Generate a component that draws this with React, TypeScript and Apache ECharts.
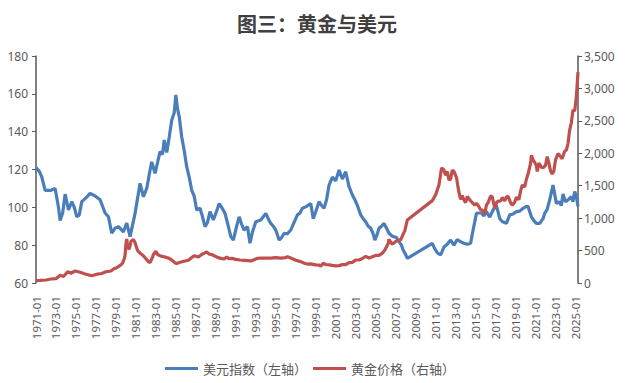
import React, { useEffect, useRef } from "react";
import * as echarts from "echarts";

const TITLE = "图三：黄金与美元";
const SERIES_NAMES = ["美元指数（左轴）", "黄金价格（右轴）"];
const START_YEAR = 1971;
const END_MONTH = "2025-04";

const DXY_DATES = [
  "1971-01","1971-05","1971-08","1971-12","1972-07","1972-12","1973-04","1973-06","1973-09","1973-12",
  "1974-04","1974-08","1974-11","1975-02","1975-05","1975-08","1976-01","1976-06","1976-12","1977-06",
  "1977-12","1978-04","1978-08","1978-12","1979-04","1979-10","1980-02","1980-06","1980-12","1981-06",
  "1981-10","1982-02","1982-06","1982-08","1982-12","1983-06","1983-09","1983-11","1984-02","1984-05",
  "1984-08","1984-11","1985-01","1985-03","1985-05","1985-08","1985-11","1986-02","1986-05","1986-08",
  "1986-11","1987-02","1987-06","1987-09","1987-12","1988-03","1988-06","1988-10","1989-02","1989-05",
  "1989-08","1989-12","1990-04","1990-07","1990-10","1991-02","1991-05","1991-08","1991-11","1992-03",
  "1992-06","1992-09","1993-01","1993-07","1993-10","1994-01","1994-04","1994-07","1994-10","1995-01",
  "1995-05","1995-08","1995-11","1996-03","1996-07","1996-11","1997-03","1997-06","1997-09","1998-02",
  "1998-07","1998-10","1999-01","1999-05","1999-08","1999-11","2000-02","2000-05","2000-09","2001-01",
  "2001-05","2001-09","2002-01","2002-05","2002-09","2002-12","2003-03","2003-07","2003-10","2004-01",
  "2004-04","2004-07","2004-10","2004-12","2005-03","2005-05","2005-08","2005-11","2006-02","2006-05",
  "2006-08","2006-11","2007-02","2007-05","2007-08","2007-10","2008-01","2008-03","2010-09","2010-12",
  "2011-03","2011-07","2011-11","2012-03","2012-07","2012-11","2013-03","2013-07","2013-11","2014-03",
  "2014-07","2014-10","2015-02","2015-05","2015-08","2015-11","2016-02","2016-06","2016-10","2017-02",
  "2017-06","2017-09","2018-02","2018-06","2018-10","2019-02","2019-06","2019-10","2020-02","2020-04",
  "2020-08","2020-11","2021-02","2021-06","2021-10","2021-12","2022-03","2022-06","2022-10","2023-02",
  "2023-05","2023-08","2023-10","2024-01","2024-04","2024-08","2024-10","2024-12","2025-02","2025-04"
];
const DXY_VALUES = [
  121,119,116,109,109,110,100,93,97,107,
  98.6,103,100,95,96,103,105,107.4,106,104,
  97,95,86.3,89,89.8,87,91.7,84.5,96.8,112.7,
  105.6,110,119.7,124,118,129.4,128,135.6,129,137,
  146,150,159.4,152,148,137.3,130,121.5,116,109,
  106,98.6,99.5,95,89.8,92,97.7,93.3,98,102,
  100,96.8,90,84.5,82.7,90,95,91,88,89.8,
  81,87,92.4,93.3,95,96.8,94,91.5,90,88,
  82.7,84,86.3,86,88,92,96,97,99.5,100.5,
  102,94,97.7,103,101,99.5,104,111.8,116,114,
  119.7,115,118.8,111,106.5,104,101,96,94,92.4,
  90,89,86,82.7,86,89,90,91.5,89,86.3,
  85,84.5,84,81.8,80,77.4,75,73,81,78,
  76,74.8,79,80.5,82.7,80,83,81.8,81,80.5,
  81,88,96.8,97,97,95.5,97.7,94.8,98.6,101,
  94,92.5,91.5,96,96.5,97.7,98,99.5,100.5,100.4,
  95,93,91.5,91.5,94,96.8,99,103.9,111.8,102,
  103,101,107,103,103.9,105.6,103,108.3,106,100.4
];

const GOLD_DATES = [
  "1971-01","1971-06","1972-01","1972-07","1973-01","1973-06","1973-10","1974-03","1974-07","1974-12",
  "1975-06","1975-12","1976-08","1977-01","1977-08","1978-01","1978-07","1978-11","1979-01","1979-07",
  "1979-09","1979-11","1979-12","1980-01","1980-02","1980-03","1980-05","1980-07","1980-10","1980-12",
  "1981-03","1981-06","1981-09","1981-12","1982-04","1982-06","1982-09","1982-10","1983-01","1983-03",
  "1983-07","1983-12","1984-05","1984-09","1984-12","1985-02","1985-06","1985-12","1986-04","1986-07",
  "1986-11","1987-04","1987-08","1987-12","1988-02","1988-05","1988-08","1988-11","1989-03","1989-07",
  "1989-11","1990-02","1990-05","1990-08","1991-01","1991-06","1991-11","1992-03","1992-07","1992-11",
  "1993-03","1993-07","1994-01","1994-07","1995-01","1995-07","1996-01","1996-03","1996-07","1997-01",
  "1997-07","1997-12","1998-04","1998-07","1999-01","1999-05","1999-07","1999-10","2000-01","2000-05",
  "2000-09","2001-01","2001-05","2001-09","2002-01","2002-05","2002-09","2003-01","2003-05","2003-09",
  "2004-01","2004-05","2004-09","2005-01","2005-05","2005-09","2005-12","2006-04","2006-05","2006-07",
  "2006-09","2006-12","2007-03","2007-07","2007-10","2007-12","2008-02","2008-03","2010-09","2011-01",
  "2011-05","2011-08","2011-09","2011-11","2012-01","2012-03","2012-05","2012-07","2012-09","2012-11",
  "2013-02","2013-04","2013-05","2013-07","2013-09","2013-11","2014-01","2014-03","2014-06","2014-09",
  "2014-12","2015-02","2015-04","2015-07","2015-09","2015-12","2016-02","2016-04","2016-07","2016-09",
  "2016-12","2017-02","2017-04","2017-06","2017-08","2017-09","2017-12","2018-02","2018-04","2018-07",
  "2018-09","2018-12","2019-02","2019-05","2019-07","2019-09","2019-12","2020-02","2020-04","2020-07",
  "2020-08","2020-10","2020-12","2021-02","2021-03","2021-05","2021-08","2021-10","2022-01","2022-03",
  "2022-05","2022-07","2022-09","2022-11","2023-01","2023-04","2023-07","2023-09","2023-12","2024-02",
  "2024-04","2024-06","2024-08","2024-10","2024-12","2025-02","2025-04"
];
const GOLD_VALUES = [
  38,40,46,62,66,120,100,172,150,185,
  165,140,112,132,146,173,185,225,228,280,
  305,375,430,600,680,560,520,640,670,620,
  500,460,430,390,330,315,400,440,490,440,
  415,400,380,345,310,300,320,340,350,380,
  420,400,440,465,480,445,440,420,395,380,
  370,400,375,380,365,355,350,345,340,360,
  380,385,385,385,390,385,390,405,385,350,
  330,300,290,295,280,275,258,305,285,280,
  272,265,268,283,282,315,318,355,355,378,
  410,385,405,425,425,460,510,610,675,630,
  600,630,655,665,755,805,920,970,1270,1360,
  1510,1760,1770,1740,1660,1720,1590,1600,1740,1720,
  1630,1470,1400,1290,1350,1280,1240,1335,1280,1240,
  1200,1230,1200,1130,1125,1068,1200,1240,1340,1330,
  1150,1235,1265,1260,1280,1320,1265,1330,1335,1240,
  1200,1250,1320,1285,1415,1510,1480,1600,1680,1840,
  1970,1900,1860,1810,1720,1850,1785,1775,1815,1950,
  1850,1730,1680,1725,1900,1995,1950,1915,2030,2050,
  2150,2360,2470,2670,2650,2870,3250
];

const LEFT_MIN = 60, LEFT_MAX = 180, LEFT_STEP = 20;
const RIGHT_MIN = 0, RIGHT_MAX = 3500, RIGHT_STEP = 500;
const X_LABEL_STEP_MONTHS = 24;

function monthIndex(d: string): number {
  const [y, m] = d.split("-").map(Number);
  return (y - START_YEAR) * 12 + (m - 1);
}

export default function App() {
  const ref = useRef<HTMLDivElement>(null);
  useEffect(() => {
    if (!ref.current) return;
    const chart = echarts.init(ref.current, undefined, { renderer: "svg" });
    const dxy = DXY_DATES.map((d, i) => [monthIndex(d), DXY_VALUES[i]]);
    const gold = GOLD_DATES.map((d, i) => [monthIndex(d), GOLD_VALUES[i]]);
    const axisColor = "#595959";
    const font = "'Noto Sans', 'Noto Sans CJK SC', sans-serif";
    chart.setOption({
      animation: false,
      backgroundColor: "#ffffff",
      title: {
        text: TITLE,
        left: 312,
        textAlign: "center",
        top: 8,
        textStyle: {
          fontFamily: "'Noto Sans CJK SC', sans-serif",
          fontWeight: "bold",
          fontSize: 20,
          color: "#404040",
        },
      },
      legend: {
        left: 160,
        top: 357,
        icon: "rect",
        itemWidth: 33,
        itemHeight: 3,
        itemGap: 6,
        textStyle: { fontFamily: "'Noto Sans CJK SC', sans-serif", fontSize: 13, color: axisColor },
        data: SERIES_NAMES,
      },
      grid: { left: 36, right: 57, top: 56, bottom: 100, containLabel: false },
      xAxis: {
        type: "value",
        min: 0,
        max: monthIndex(END_MONTH),
        interval: X_LABEL_STEP_MONTHS,
        axisLine: { show: false },
        axisTick: { show: false },
        splitLine: { show: false },
        axisLabel: {
          rotate: 90,
          margin: 13,
          fontSize: 11.5,
          fontFamily: font,
          color: axisColor,
          showMaxLabel: false,
          formatter: (v: number) =>
            v % X_LABEL_STEP_MONTHS === 0 ? `${START_YEAR + v / 12}-01` : "",
        },
      },
      yAxis: [
        {
          type: "value",
          min: LEFT_MIN,
          max: LEFT_MAX,
          interval: LEFT_STEP,
          position: "left",
          axisLine: { show: true, lineStyle: { color: axisColor, width: 1.5 } },
          axisTick: { show: true, length: 4, lineStyle: { color: axisColor } },
          splitLine: { show: false },
          axisLabel: { fontSize: 12, fontFamily: font, color: axisColor, margin: 8 },
        },
        {
          type: "value",
          min: RIGHT_MIN,
          max: RIGHT_MAX,
          interval: RIGHT_STEP,
          position: "right",
          axisLine: { show: true, lineStyle: { color: axisColor, width: 1.5 } },
          axisTick: { show: true, length: 4, lineStyle: { color: axisColor } },
          splitLine: { show: false },
          axisLabel: {
            fontSize: 12,
            fontFamily: font,
            color: axisColor,
            margin: 6,
            formatter: (v: number) => v.toLocaleString("en-US"),
          },
        },
      ],
      series: [
        {
          name: SERIES_NAMES[0],
          type: "line",
          yAxisIndex: 0,
          data: dxy,
          symbol: "none",
          showSymbol: false,
          lineStyle: { width: 3.2, color: "#4A7EBB" },
          itemStyle: { color: "#4A7EBB" },
        },
        {
          name: SERIES_NAMES[1],
          type: "line",
          yAxisIndex: 1,
          data: gold,
          symbol: "none",
          showSymbol: false,
          lineStyle: { width: 3.2, color: "#C0504D" },
          itemStyle: { color: "#C0504D" },
        },
      ],
    });
    return () => chart.dispose();
  }, []);
  return (
    <div
      ref={ref}
      style={{ position: "fixed", left: 0, top: 0, width: 635, height: 383, background: "#fff" }}
    />
  );
}
